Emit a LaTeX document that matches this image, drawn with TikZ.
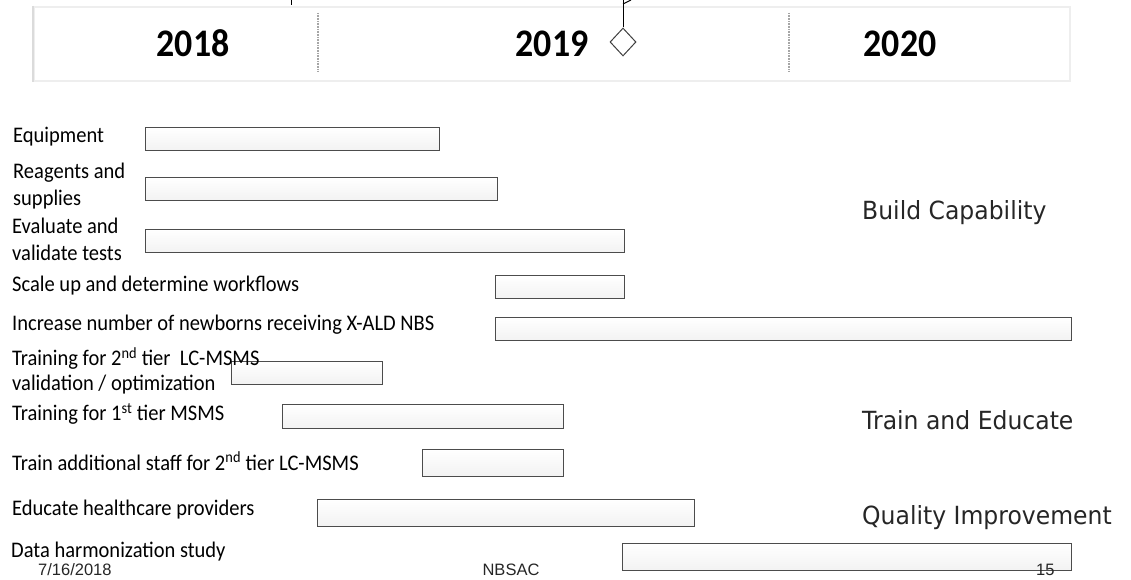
\documentclass[tikz,border=0pt]{standalone}
\usepackage{fontspec}
\setmainfont{Carlito}
\newfontfamily\lblf[FakeStretch=0.92]{Carlito}
\newfontfamily\verd[FakeStretch=0.94]{DejaVu Sans}
\newfontfamily\arialf{Liberation Sans}
\usetikzlibrary{shapes.geometric}
\tikzset{
  barbox/.style={draw=black!70, line width=1.1pt, top color=white, bottom color=gray!10,
    inner sep=0pt, anchor=north west},
  lbl/.style={anchor=west, inner sep=0pt, font=\lblf\fontsize{22.3}{27}\selectfont, align=left, text=black},
  grp/.style={anchor=west, inner sep=0pt, font=\verd\fontsize{25}{30}\selectfont, text=black!85},
  yearlbl/.style={inner sep=0pt, anchor=base, font=\lblf\bfseries\fontsize{39}{44}\selectfont},
  foot/.style={inner sep=0pt, font=\arialf\fontsize{16.5}{18}\selectfont, text=black!85},
  divider/.style={draw=gray!70, line width=1.3pt, dash pattern=on 1pt off 0.6pt},
}
\begin{document}
\begin{tikzpicture}[x=1pt,y=-1pt]
\useasboundingbox (0,0) rectangle (1131,580);
% timeline band
\node[draw=gray!13, line width=1.6pt, fill=white, minimum width=1036pt, minimum height=74pt, inner sep=0pt, anchor=north west] (band) at (33,6) {};
\draw[gray!28, line width=1.2pt] (band.north west) -- (band.south west);
\coordinate (d1t) at (318,13); \coordinate (d1b) at (318,72);
\coordinate (d2t) at (789,13); \coordinate (d2b) at (789,72);
\draw[divider] (d1t) -- (d1b);
\draw[divider] (d2t) -- (d2b);
\node[yearlbl] (y18) at (193,57) {2018};
\node[yearlbl] (y19) at (552,57) {2019};
\node[yearlbl] (y20) at (900,57) {2020};
% milestone
\node[diamond, draw=black!75, line width=1pt, minimum width=26pt, minimum height=28pt, inner sep=0pt, fill=white] (ms) at (623,42) {};
\coordinate (mstop) at (623,0);
\coordinate (flagA) at (623,4);
\coordinate (flagB) at (631,0);
\draw[black, line width=0.9pt] (mstop) -- (ms.north);
\draw[black, line width=0.9pt] (flagA) -- (flagB);
\coordinate (tickA) at (291,0); \coordinate (tickB) at (291,5);
\draw[black, line width=0.8pt] (tickA) -- (tickB);
% bars
\node[barbox, minimum width=294pt, minimum height=23pt] (b1) at (145,127) {};
\node[barbox, minimum width=352pt, minimum height=23pt] (b2) at (145,177) {};
\node[barbox, minimum width=479pt, minimum height=23pt] (b3) at (145,229) {};
\node[barbox, minimum width=129pt, minimum height=23pt] (b4) at (495,275) {};
\node[barbox, minimum width=576pt, minimum height=23pt] (b5) at (495,317) {};
\node[barbox, minimum width=151pt, minimum height=23pt] (b6) at (231,361) {};
\node[barbox, minimum width=281pt, minimum height=24pt] (b7) at (282,404) {};
\node[barbox, minimum width=141pt, minimum height=27pt] (b8) at (422,449) {};
\node[barbox, minimum width=377pt, minimum height=27pt] (b9) at (317,499) {};
\node[barbox, minimum width=449pt, minimum height=27pt] (b10) at (622,543) {};
% labels
\node[lbl] (l1) at (13,137) {Equipment};
\node[lbl] (l2) at (13,186) {Reagents and\\supplies};
\node[lbl] (l3) at (12,239) {Evaluate and\\validate tests};
\node[lbl] (l4) at (12,286) {Scale up and determine workflows};
\node[lbl] (l5) at (12,325) {Increase number of newborns receiving X-ALD NBS};
\node[lbl, font=\lblf\fontsize{22.3}{25}\selectfont] (l6) at (12,371) {Training for 2\textsuperscript{nd} tier\ \ LC-MSMS\\validation / optimization};
\node[lbl] (l7) at (12,414) {Training for 1\textsuperscript{st} tier MSMS};
\node[lbl] (l8) at (12,461) {Train additional staff for 2\textsuperscript{nd} tier LC-MSMS};
\node[lbl] (l9) at (12,510) {Educate healthcare providers};
\node[lbl] (l10) at (11,552) {Data harmonization study};
% group labels
\node[grp] (g1) at (862,213) {Build Capability};
\node[grp] (g2) at (862,420) {Train and Educate};
\node[grp] (g3) at (862,518) {Quality Improvement};
% footer
\node[foot, anchor=west] (f1) at (38,570) {7/16/2018};
\node[foot] (f2) at (511,570) {NBSAC};
\node[foot, anchor=west] (f3) at (1036,570) {15};
\end{tikzpicture}
\end{document}
